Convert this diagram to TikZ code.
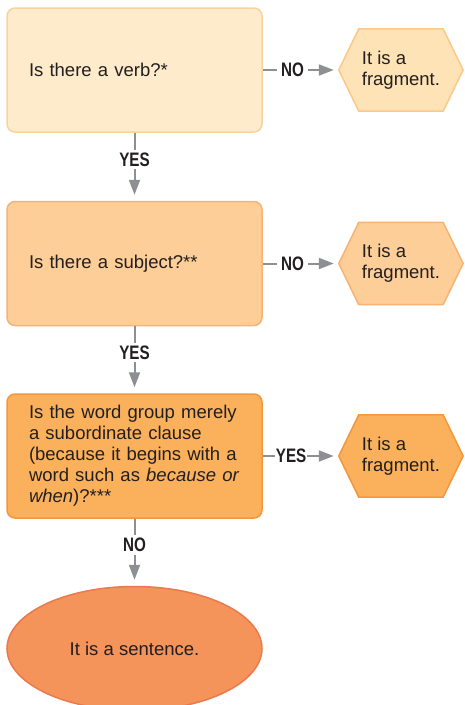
\documentclass[tikz,border=0pt]{standalone}
\usepackage{fontspec}
\setmainfont{Liberation Sans}
\newfontfamily\answerfont[FakeStretch=0.78]{Liberation Sans}
\usetikzlibrary{positioning,shapes.geometric,arrows.meta,backgrounds}

\definecolor{inkgray}{HTML}{231F20}
\definecolor{arrowgray}{HTML}{8E8F93}
\definecolor{qonefill}{HTML}{FEEBCB}
\definecolor{qoneedge}{HTML}{FAD29E}
\definecolor{qtwofill}{HTML}{FDCE97}
\definecolor{qtwoedge}{HTML}{F7B274}
\definecolor{qthreefill}{HTML}{FBB15B}
\definecolor{qthreeedge}{HTML}{F4963B}
\definecolor{hexonefill}{HTML}{FEE3B6}
\definecolor{hexoneedge}{HTML}{FAC889}
\definecolor{endfill}{HTML}{F4935A}
\definecolor{endedge}{HTML}{EA7A4D}

\tikzset{
    question/.style={rectangle, rounded corners=8pt, minimum width=255pt, minimum height=124pt,
        text width=211pt, inner xsep=22pt, align=left, line width=1.5pt},
    fragment/.style={rectangle, minimum width=84pt, minimum height=82pt, inner sep=0pt, align=left},
    hexpath/.style={line width=1.5pt, line join=miter},
    sentence/.style={ellipse, minimum width=255pt, minimum height=124pt, line width=1.5pt},
    flow/.style={draw=arrowgray, line width=2pt, -{Triangle[length=15pt,width=11pt]}},
    answer/.style={fill=white, inner xsep=4pt, inner ysep=3pt, text=inkgray,
        font=\answerfont\bfseries\fontsize{19.5pt}{19.5pt}\selectfont}
}

\begin{document}
\begin{tikzpicture}[x=1pt, y=1pt,
    every node/.style={text=inkgray, font=\fontsize{18.5pt}{21pt}\selectfont}
]
    \useasboundingbox (0,0) rectangle (464,-705);

    % questions down the left
    \node [question, fill=qonefill, draw=qoneedge] (verb) at (134.5,-70) {Is there a verb?*};
    \node [question, fill=qtwofill, draw=qtwoedge, below=68pt of verb] (subject) {Is there a subject?**};
    \node [question, fill=qthreefill, draw=qthreeedge, below=67pt of subject] (clause)
        {Is the word group merely\\ a subordinate clause\\ (because it begins with a\\ word such as \textit{because or}\\ \textit{when})?***};
    \node [sentence, fill=endfill, draw=endedge, below=67pt of clause] (whole) {It is a sentence.};

    % fragments on the right
    \node [fragment, right=96pt of verb] (fragverb) {It is a\\ fragment.};
    \node [fragment, right=96pt of subject] (fragsubj) {It is a\\ fragment.};
    \node [fragment, right=96pt of clause] (fragclause) {It is a\\ fragment.};

    \begin{scope}[on background layer]
        \foreach \frag/\fillc/\edgec in {fragverb/hexonefill/hexoneedge, fragsubj/qtwofill/qtwoedge,
                                        fragclause/qthreefill/qthreeedge} {
            \filldraw [hexpath, fill=\fillc, draw=\edgec] ([xshift=-20pt]\frag.west) -- (\frag.north west)
                -- (\frag.north east) -- ([xshift=20pt]\frag.east) -- (\frag.south east) -- (\frag.south west) -- cycle;
        }
    \end{scope}

    \draw [flow] (verb.east) -- node[answer, pos=0.42] {NO} ([xshift=-25pt]fragverb.west);
    \draw [flow] (subject.east) -- node[answer, pos=0.42] {NO} ([xshift=-25pt]fragsubj.west);
    \draw [flow] (clause.east) -- node[answer, pos=0.40, inner xsep=1pt] {YES} ([xshift=-25pt]fragclause.west);

    \draw [flow] (verb.south) -- node[answer, pos=0.43] {YES} ([yshift=6pt]subject.north);
    \draw [flow] (subject.south) -- node[answer, pos=0.43] {YES} ([yshift=6pt]clause.north);
    \draw [flow] (clause.south) -- node[answer, pos=0.43] {NO} ([yshift=6pt]whole.north);
\end{tikzpicture}
\end{document}
